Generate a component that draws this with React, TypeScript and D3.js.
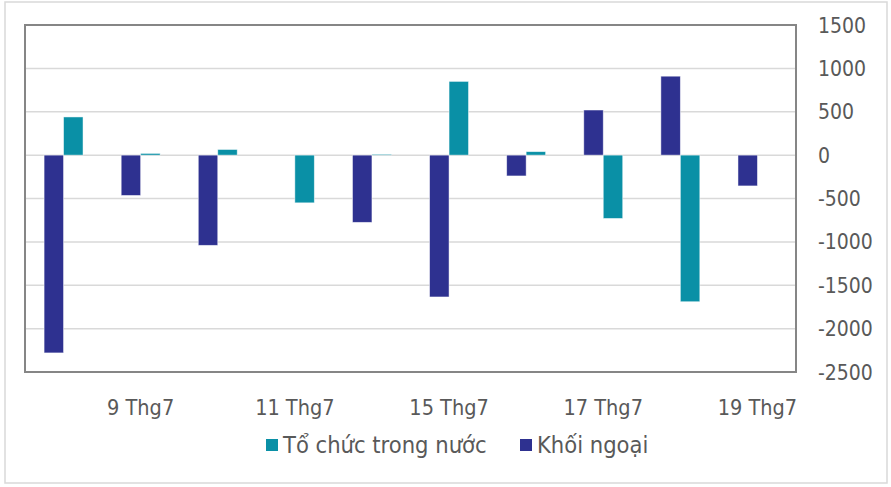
import React from "react";
import * as d3 from "d3";

// ngày giao dịch tháng 7
const dates = ["8 Thg7", "9 Thg7", "10 Thg7", "11 Thg7", "12 Thg7", "15 Thg7", "16 Thg7", "17 Thg7", "18 Thg7", "19 Thg7"];
const tickDates = ["9 Thg7", "11 Thg7", "15 Thg7", "17 Thg7", "19 Thg7"];
const seriesNames = ["Khối ngoại", "Tổ chức trong nước"];
const khoiNgoai = [-2280, -465, -1040, 0, -775, -1635, -240, 520, 910, -355];
const toChucTrongNuoc = [440, 20, 65, -550, 10, 850, 40, -730, -1690, 0];
const yTicks = [1500, 1000, 500, 0, -500, -1000, -1500, -2000, -2500];

const W = 891;
const H = 487;
const colors = { "Khối ngoại": "#2E3190", "Tổ chức trong nước": "#0A90A6" };
const font = "'DejaVu Sans Condensed', 'DejaVu Sans', sans-serif";

export default function App() {
  const left = 25, right = 796, top = 25, bottom = 372;

  const x0 = d3.scaleBand().domain(dates).range([left, right]).paddingInner(0).paddingOuter(0);
  const x1 = d3.scaleBand().domain(seriesNames).range([0, x0.bandwidth()]).paddingInner(0).paddingOuter(0.98);
  const y = d3.scaleLinear().domain([-2500, 1500]).range([bottom, top]);

  const values = { "Khối ngoại": khoiNgoai, "Tổ chức trong nước": toChucTrongNuoc };
  const legend = [
    { name: "Tổ chức trong nước", x: 266, tx: 283 },
    { name: "Khối ngoại", x: 520, tx: 537 },
  ];

  return (
    <svg width={W} height={H} style={{ position: "absolute", left: 0, top: 0, background: "#fff" }}>
      <rect x={5} y={2} width={882} height={481} fill="#fff" stroke="#d9d9d9" strokeWidth={1.5} />

      {/* lưới ngang */}
      {yTicks.map((t) => (
        <line key={t} x1={left} x2={right} y1={y(t)} y2={y(t)} stroke="#d9d9d9" strokeWidth={1.5} />
      ))}

      {/* cột */}
      {dates.map((d, i) => (
        <g key={d} transform={`translate(${x0(d)},0)`}>
          {seriesNames.map((s) => {
            const v = values[s][i];
            const yTop = y(Math.max(0, v));
            const h = Math.abs(y(v) - y(0));
            return (
              <rect
                key={s}
                x={x1(s)}
                y={yTop}
                width={x1.bandwidth()}
                height={h}
                fill={colors[s]}
                stroke="rgba(255,255,255,0.6)"
                strokeWidth={0.8}
              />
            );
          })}
        </g>
      ))}

      <rect x={left} y={top} width={right - left} height={bottom - top} fill="none" stroke="#868686" strokeWidth={2} />

      {/* trục phải */}
      {yTicks.map((t) => (
        <text key={t} x={818} y={y(t)} dy="0.36em" fontFamily={font} fontSize={21} fill="#595959">
          {t}
        </text>
      ))}

      {/* nhãn trục x */}
      {tickDates.map((d) => (
        <text
          key={d}
          x={(x0(d) as number) + x0.bandwidth() / 2}
          y={407}
          dy="0.36em"
          textAnchor="middle"
          fontFamily={font}
          fontSize={21.5}
          fill="#595959"
        >
          {d}
        </text>
      ))}

      {/* chú thích */}
      {legend.map((l) => (
        <g key={l.name}>
          <rect x={l.x} y={439} width={12} height={12} fill={colors[l.name]} />
          <text x={l.tx} y={445} dy="0.36em" fontFamily={font} fontSize={23.5} fill="#595959">
            {l.name}
          </text>
        </g>
      ))}
    </svg>
  );
}
